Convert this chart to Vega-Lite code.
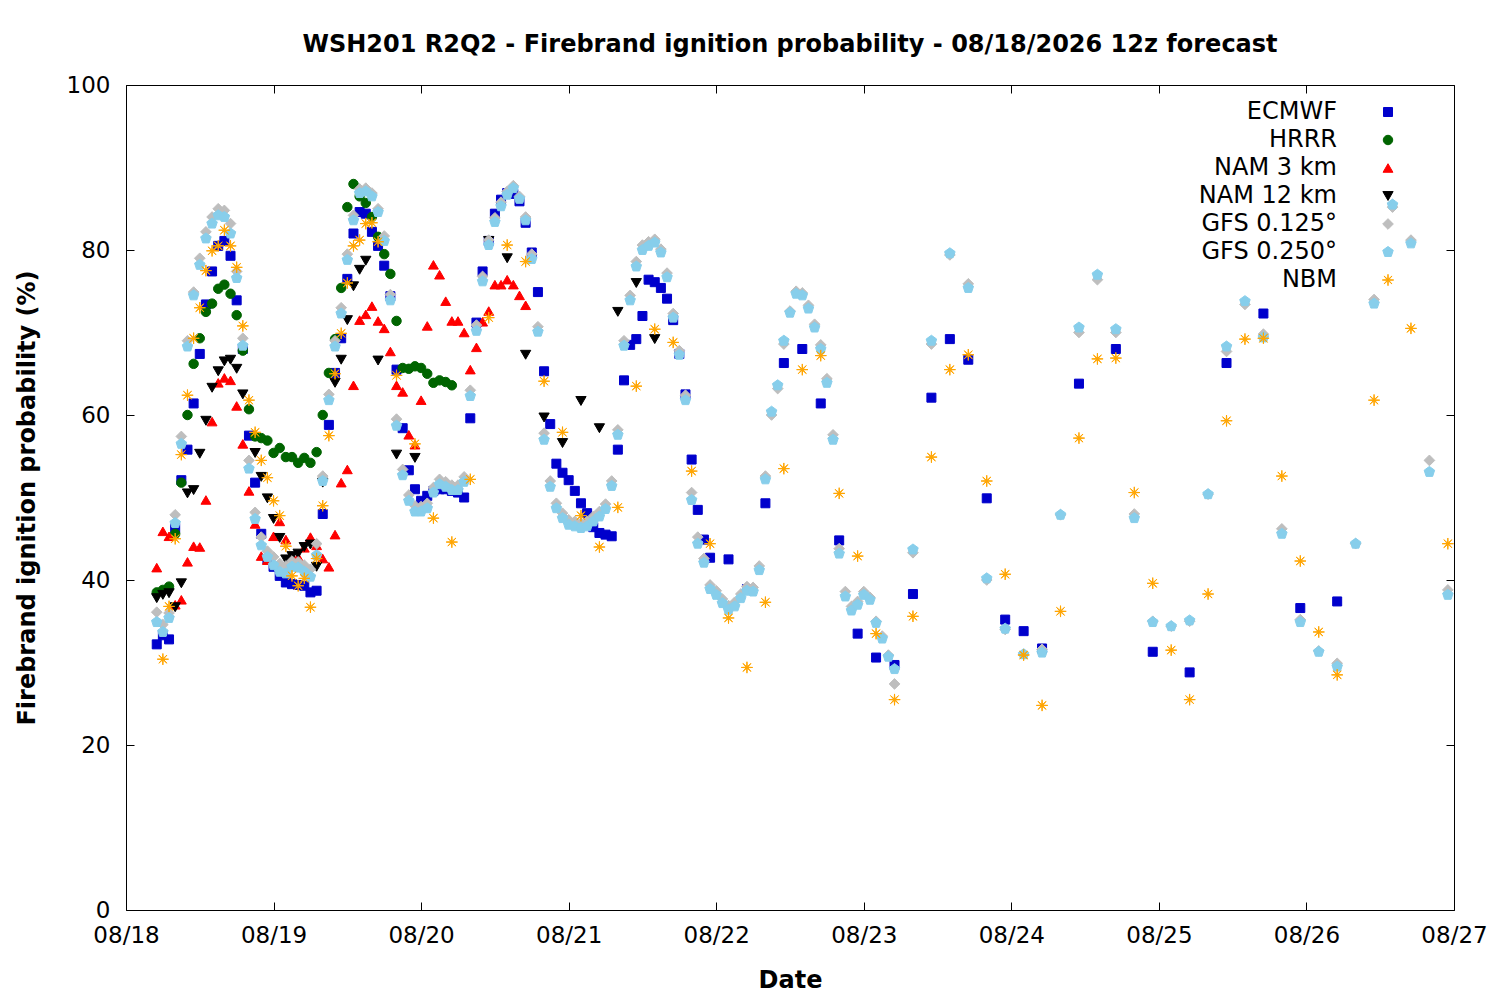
{
  "$schema": "https://vega.github.io/schema/vega-lite/v6.json",
  "width": 1328,
  "height": 825,
  "autosize": {"type": "none"},
  "padding": {"left": 126, "top": 85, "right": 46, "bottom": 90},
  "background": "white",
  "title": {"text": "WSH201 R2Q2 - Firebrand ignition probability - 08/18/2026 12z forecast", "font": "DejaVu Sans", "fontSize": 24, "fontWeight": "bold", "anchor": "middle", "offset": 17, "color": "black"},
  "config": {
    "view": {"stroke": "black", "strokeWidth": 1},
    "axis": {"labelFont": "DejaVu Sans", "titleFont": "DejaVu Sans", "labelColor": "black", "titleColor": "black", "tickColor": "black", "grid": false, "domain": false, "labelFontSize": 23, "titleFontSize": 24, "titleFontWeight": "bold", "tickSize": -8, "tickWidth": 1, "labelFlush": false, "labelOverlap": false},
    "legend": {"labelFont": "DejaVu Sans", "labelColor": "black"}
  },
  "data": {"values": [
{"m":"ECMWF","h":5,"v":32.2},{"m":"ECMWF","h":6,"v":33.3},{"m":"ECMWF","h":7,"v":32.8},{"m":"ECMWF","h":8,"v":46.3},{"m":"ECMWF","h":9,"v":52.1},{"m":"ECMWF","h":10,"v":55.8},{"m":"ECMWF","h":11,"v":61.4},{"m":"ECMWF","h":12,"v":67.4},{"m":"ECMWF","h":13,"v":73.4},{"m":"ECMWF","h":14,"v":77.4},{"m":"ECMWF","h":15,"v":80.5},{"m":"ECMWF","h":16,"v":81.1},{"m":"ECMWF","h":17,"v":79.3},{"m":"ECMWF","h":18,"v":73.9},{"m":"ECMWF","h":19,"v":68.0},{"m":"ECMWF","h":20,"v":57.5},{"m":"ECMWF","h":21,"v":51.8},{"m":"ECMWF","h":22,"v":45.6},{"m":"ECMWF","h":23,"v":42.5},{"m":"ECMWF","h":24,"v":41.6},{"m":"ECMWF","h":25,"v":40.5},{"m":"ECMWF","h":26,"v":39.7},{"m":"ECMWF","h":27,"v":39.5},{"m":"ECMWF","h":28,"v":39.4},{"m":"ECMWF","h":29,"v":39.3},{"m":"ECMWF","h":30,"v":38.5},{"m":"ECMWF","h":31,"v":38.7},{"m":"ECMWF","h":32,"v":48.0},{"m":"ECMWF","h":33,"v":58.8},{"m":"ECMWF","h":34,"v":65.1},{"m":"ECMWF","h":35,"v":69.3},{"m":"ECMWF","h":36,"v":76.5},{"m":"ECMWF","h":37,"v":82.0},{"m":"ECMWF","h":38,"v":84.6},{"m":"ECMWF","h":39,"v":84.4},{"m":"ECMWF","h":40,"v":82.2},{"m":"ECMWF","h":41,"v":80.5},{"m":"ECMWF","h":42,"v":78.1},{"m":"ECMWF","h":43,"v":74.4},{"m":"ECMWF","h":44,"v":65.5},{"m":"ECMWF","h":45,"v":58.4},{"m":"ECMWF","h":46,"v":53.3},{"m":"ECMWF","h":47,"v":51.0},{"m":"ECMWF","h":48,"v":49.6},{"m":"ECMWF","h":49,"v":50.2},{"m":"ECMWF","h":50,"v":50.8},{"m":"ECMWF","h":51,"v":51.0},{"m":"ECMWF","h":52,"v":51.0},{"m":"ECMWF","h":53,"v":50.8},{"m":"ECMWF","h":54,"v":50.6},{"m":"ECMWF","h":55,"v":50.0},{"m":"ECMWF","h":56,"v":59.6},{"m":"ECMWF","h":57,"v":71.2},{"m":"ECMWF","h":58,"v":77.4},{"m":"ECMWF","h":59,"v":81.1},{"m":"ECMWF","h":60,"v":84.4},{"m":"ECMWF","h":61,"v":86.1},{"m":"ECMWF","h":62,"v":86.9},{"m":"ECMWF","h":63,"v":86.8},{"m":"ECMWF","h":64,"v":85.9},{"m":"ECMWF","h":65,"v":83.3},{"m":"ECMWF","h":66,"v":79.7},{"m":"ECMWF","h":67,"v":74.9},{"m":"ECMWF","h":68,"v":65.3},{"m":"ECMWF","h":69,"v":58.9},{"m":"ECMWF","h":70,"v":54.1},{"m":"ECMWF","h":71,"v":53.0},{"m":"ECMWF","h":72,"v":52.1},{"m":"ECMWF","h":73,"v":50.8},{"m":"ECMWF","h":74,"v":49.3},{"m":"ECMWF","h":75,"v":48.1},{"m":"ECMWF","h":76,"v":46.4},{"m":"ECMWF","h":77,"v":45.7},{"m":"ECMWF","h":78,"v":45.5},{"m":"ECMWF","h":79,"v":45.3},{"m":"ECMWF","h":80,"v":55.8},{"m":"ECMWF","h":81,"v":64.2},{"m":"ECMWF","h":82,"v":68.5},{"m":"ECMWF","h":83,"v":69.2},{"m":"ECMWF","h":84,"v":72.0},{"m":"ECMWF","h":85,"v":76.4},{"m":"ECMWF","h":86,"v":76.1},{"m":"ECMWF","h":87,"v":75.4},{"m":"ECMWF","h":88,"v":74.1},{"m":"ECMWF","h":89,"v":71.5},{"m":"ECMWF","h":90,"v":67.4},{"m":"ECMWF","h":91,"v":62.5},{"m":"ECMWF","h":92,"v":54.6},{"m":"ECMWF","h":93,"v":48.5},{"m":"ECMWF","h":94,"v":44.9},{"m":"ECMWF","h":95,"v":42.7},{"m":"ECMWF","h":98,"v":42.5},{"m":"ECMWF","h":101,"v":38.9},{"m":"ECMWF","h":104,"v":49.3},{"m":"ECMWF","h":107,"v":66.3},{"m":"ECMWF","h":110,"v":68.0},{"m":"ECMWF","h":113,"v":61.4},{"m":"ECMWF","h":116,"v":44.8},{"m":"ECMWF","h":119,"v":33.5},{"m":"ECMWF","h":122,"v":30.6},{"m":"ECMWF","h":125,"v":29.7},{"m":"ECMWF","h":128,"v":38.3},{"m":"ECMWF","h":131,"v":62.1},{"m":"ECMWF","h":134,"v":69.2},{"m":"ECMWF","h":137,"v":66.7},{"m":"ECMWF","h":140,"v":49.9},{"m":"ECMWF","h":143,"v":35.2},{"m":"ECMWF","h":146,"v":33.8},{"m":"ECMWF","h":149,"v":31.7},{"m":"ECMWF","h":155,"v":63.8},{"m":"ECMWF","h":161,"v":68.0},{"m":"ECMWF","h":167,"v":31.3},{"m":"ECMWF","h":173,"v":28.8},{"m":"ECMWF","h":179,"v":66.3},{"m":"ECMWF","h":185,"v":72.3},{"m":"ECMWF","h":191,"v":36.6},{"m":"ECMWF","h":197,"v":37.4},
{"m":"HRRR","h":5,"v":38.5},{"m":"HRRR","h":6,"v":38.8},{"m":"HRRR","h":7,"v":39.2},{"m":"HRRR","h":8,"v":45.6},{"m":"HRRR","h":9,"v":51.8},{"m":"HRRR","h":10,"v":60.0},{"m":"HRRR","h":11,"v":66.2},{"m":"HRRR","h":12,"v":69.3},{"m":"HRRR","h":13,"v":72.5},{"m":"HRRR","h":14,"v":73.5},{"m":"HRRR","h":15,"v":75.3},{"m":"HRRR","h":16,"v":75.8},{"m":"HRRR","h":17,"v":74.7},{"m":"HRRR","h":18,"v":72.1},{"m":"HRRR","h":19,"v":67.8},{"m":"HRRR","h":20,"v":60.7},{"m":"HRRR","h":21,"v":57.4},{"m":"HRRR","h":22,"v":57.2},{"m":"HRRR","h":23,"v":56.9},{"m":"HRRR","h":24,"v":55.4},{"m":"HRRR","h":25,"v":56.0},{"m":"HRRR","h":26,"v":54.9},{"m":"HRRR","h":27,"v":54.9},{"m":"HRRR","h":28,"v":54.2},{"m":"HRRR","h":29,"v":54.8},{"m":"HRRR","h":30,"v":54.2},{"m":"HRRR","h":31,"v":55.5},{"m":"HRRR","h":32,"v":60.0},{"m":"HRRR","h":33,"v":65.1},{"m":"HRRR","h":34,"v":69.2},{"m":"HRRR","h":35,"v":75.4},{"m":"HRRR","h":36,"v":85.2},{"m":"HRRR","h":37,"v":88.0},{"m":"HRRR","h":38,"v":86.5},{"m":"HRRR","h":39,"v":85.7},{"m":"HRRR","h":40,"v":84.0},{"m":"HRRR","h":41,"v":81.6},{"m":"HRRR","h":42,"v":79.5},{"m":"HRRR","h":43,"v":77.1},{"m":"HRRR","h":44,"v":71.4},{"m":"HRRR","h":45,"v":65.7},{"m":"HRRR","h":46,"v":65.6},{"m":"HRRR","h":47,"v":65.9},{"m":"HRRR","h":48,"v":65.7},{"m":"HRRR","h":49,"v":65.0},{"m":"HRRR","h":50,"v":63.9},{"m":"HRRR","h":51,"v":64.2},{"m":"HRRR","h":52,"v":64.0},{"m":"HRRR","h":53,"v":63.6},
{"m":"NAM 3 km","h":5,"v":41.5},{"m":"NAM 3 km","h":6,"v":45.9},{"m":"NAM 3 km","h":7,"v":45.3},{"m":"NAM 3 km","h":8,"v":37.0},{"m":"NAM 3 km","h":9,"v":37.6},{"m":"NAM 3 km","h":10,"v":42.2},{"m":"NAM 3 km","h":11,"v":44.1},{"m":"NAM 3 km","h":12,"v":44.0},{"m":"NAM 3 km","h":13,"v":49.7},{"m":"NAM 3 km","h":14,"v":59.2},{"m":"NAM 3 km","h":15,"v":63.9},{"m":"NAM 3 km","h":16,"v":64.5},{"m":"NAM 3 km","h":17,"v":64.2},{"m":"NAM 3 km","h":18,"v":61.1},{"m":"NAM 3 km","h":19,"v":56.5},{"m":"NAM 3 km","h":20,"v":50.8},{"m":"NAM 3 km","h":21,"v":46.8},{"m":"NAM 3 km","h":22,"v":42.9},{"m":"NAM 3 km","h":23,"v":42.4},{"m":"NAM 3 km","h":24,"v":45.3},{"m":"NAM 3 km","h":25,"v":47.1},{"m":"NAM 3 km","h":26,"v":44.9},{"m":"NAM 3 km","h":27,"v":42.8},{"m":"NAM 3 km","h":28,"v":42.8},{"m":"NAM 3 km","h":29,"v":43.9},{"m":"NAM 3 km","h":30,"v":45.2},{"m":"NAM 3 km","h":31,"v":44.2},{"m":"NAM 3 km","h":32,"v":42.6},{"m":"NAM 3 km","h":33,"v":41.6},{"m":"NAM 3 km","h":34,"v":45.5},{"m":"NAM 3 km","h":35,"v":51.8},{"m":"NAM 3 km","h":36,"v":53.4},{"m":"NAM 3 km","h":37,"v":63.6},{"m":"NAM 3 km","h":38,"v":71.5},{"m":"NAM 3 km","h":39,"v":72.2},{"m":"NAM 3 km","h":40,"v":73.2},{"m":"NAM 3 km","h":41,"v":71.4},{"m":"NAM 3 km","h":42,"v":70.5},{"m":"NAM 3 km","h":43,"v":67.7},{"m":"NAM 3 km","h":44,"v":63.6},{"m":"NAM 3 km","h":45,"v":62.8},{"m":"NAM 3 km","h":46,"v":57.6},{"m":"NAM 3 km","h":47,"v":56.4},{"m":"NAM 3 km","h":48,"v":61.8},{"m":"NAM 3 km","h":49,"v":70.8},{"m":"NAM 3 km","h":50,"v":78.2},{"m":"NAM 3 km","h":51,"v":77.0},{"m":"NAM 3 km","h":52,"v":73.8},{"m":"NAM 3 km","h":53,"v":71.4},{"m":"NAM 3 km","h":54,"v":71.4},{"m":"NAM 3 km","h":55,"v":70.0},{"m":"NAM 3 km","h":56,"v":65.5},{"m":"NAM 3 km","h":57,"v":68.2},{"m":"NAM 3 km","h":58,"v":71.3},{"m":"NAM 3 km","h":59,"v":72.6},{"m":"NAM 3 km","h":60,"v":75.8},{"m":"NAM 3 km","h":61,"v":75.8},{"m":"NAM 3 km","h":62,"v":76.4},{"m":"NAM 3 km","h":63,"v":75.8},{"m":"NAM 3 km","h":64,"v":74.5},{"m":"NAM 3 km","h":65,"v":73.3},
{"m":"NAM 12 km","h":5,"v":37.8},{"m":"NAM 12 km","h":6,"v":38.2},{"m":"NAM 12 km","h":7,"v":38.4},{"m":"NAM 12 km","h":8,"v":36.7},{"m":"NAM 12 km","h":9,"v":39.6},{"m":"NAM 12 km","h":10,"v":50.5},{"m":"NAM 12 km","h":11,"v":50.9},{"m":"NAM 12 km","h":12,"v":55.3},{"m":"NAM 12 km","h":13,"v":59.3},{"m":"NAM 12 km","h":14,"v":63.3},{"m":"NAM 12 km","h":15,"v":65.3},{"m":"NAM 12 km","h":16,"v":66.5},{"m":"NAM 12 km","h":17,"v":66.7},{"m":"NAM 12 km","h":18,"v":65.6},{"m":"NAM 12 km","h":19,"v":62.5},{"m":"NAM 12 km","h":21,"v":55.4},{"m":"NAM 12 km","h":22,"v":52.5},{"m":"NAM 12 km","h":23,"v":49.9},{"m":"NAM 12 km","h":24,"v":47.4},{"m":"NAM 12 km","h":25,"v":45.1},{"m":"NAM 12 km","h":26,"v":42.5},{"m":"NAM 12 km","h":27,"v":42.9},{"m":"NAM 12 km","h":28,"v":43.2},{"m":"NAM 12 km","h":29,"v":44.0},{"m":"NAM 12 km","h":30,"v":44.3},{"m":"NAM 12 km","h":31,"v":41.6},{"m":"NAM 12 km","h":32,"v":51.8},{"m":"NAM 12 km","h":34,"v":63.9},{"m":"NAM 12 km","h":35,"v":66.7},{"m":"NAM 12 km","h":36,"v":71.5},{"m":"NAM 12 km","h":37,"v":75.6},{"m":"NAM 12 km","h":38,"v":77.6},{"m":"NAM 12 km","h":39,"v":78.7},{"m":"NAM 12 km","h":41,"v":66.6},{"m":"NAM 12 km","h":44,"v":55.2},{"m":"NAM 12 km","h":47,"v":54.8},{"m":"NAM 12 km","h":59,"v":81.1},{"m":"NAM 12 km","h":62,"v":79.0},{"m":"NAM 12 km","h":65,"v":67.3},{"m":"NAM 12 km","h":68,"v":59.7},{"m":"NAM 12 km","h":71,"v":56.6},{"m":"NAM 12 km","h":74,"v":61.7},{"m":"NAM 12 km","h":77,"v":58.4},{"m":"NAM 12 km","h":80,"v":72.5},{"m":"NAM 12 km","h":83,"v":76.0},{"m":"NAM 12 km","h":86,"v":69.2},
{"m":"GFS 0.125°","h":5,"v":36.1},{"m":"GFS 0.125°","h":6,"v":34.6},{"m":"GFS 0.125°","h":7,"v":36.0},{"m":"GFS 0.125°","h":8,"v":47.9},{"m":"GFS 0.125°","h":9,"v":57.4},{"m":"GFS 0.125°","h":10,"v":69.0},{"m":"GFS 0.125°","h":11,"v":74.9},{"m":"GFS 0.125°","h":12,"v":79.0},{"m":"GFS 0.125°","h":13,"v":82.2},{"m":"GFS 0.125°","h":14,"v":84.0},{"m":"GFS 0.125°","h":15,"v":85.0},{"m":"GFS 0.125°","h":16,"v":84.8},{"m":"GFS 0.125°","h":17,"v":83.2},{"m":"GFS 0.125°","h":18,"v":77.4},{"m":"GFS 0.125°","h":19,"v":69.3},{"m":"GFS 0.125°","h":20,"v":54.5},{"m":"GFS 0.125°","h":21,"v":48.2},{"m":"GFS 0.125°","h":22,"v":45.2},{"m":"GFS 0.125°","h":23,"v":43.5},{"m":"GFS 0.125°","h":24,"v":42.8},{"m":"GFS 0.125°","h":25,"v":42.0},{"m":"GFS 0.125°","h":26,"v":41.7},{"m":"GFS 0.125°","h":27,"v":42.3},{"m":"GFS 0.125°","h":28,"v":42.2},{"m":"GFS 0.125°","h":29,"v":41.8},{"m":"GFS 0.125°","h":30,"v":41.3},{"m":"GFS 0.125°","h":31,"v":44.4},{"m":"GFS 0.125°","h":32,"v":52.6},{"m":"GFS 0.125°","h":33,"v":62.5},{"m":"GFS 0.125°","h":34,"v":69.0},{"m":"GFS 0.125°","h":35,"v":73.0},{"m":"GFS 0.125°","h":36,"v":79.5},{"m":"GFS 0.125°","h":37,"v":84.2},{"m":"GFS 0.125°","h":38,"v":87.4},{"m":"GFS 0.125°","h":39,"v":87.5},{"m":"GFS 0.125°","h":40,"v":86.9},{"m":"GFS 0.125°","h":41,"v":85.0},{"m":"GFS 0.125°","h":42,"v":81.7},{"m":"GFS 0.125°","h":43,"v":74.6},{"m":"GFS 0.125°","h":44,"v":59.5},{"m":"GFS 0.125°","h":45,"v":53.4},{"m":"GFS 0.125°","h":46,"v":50.3},{"m":"GFS 0.125°","h":47,"v":49.0},{"m":"GFS 0.125°","h":48,"v":48.9},{"m":"GFS 0.125°","h":49,"v":49.3},{"m":"GFS 0.125°","h":50,"v":51.2},{"m":"GFS 0.125°","h":51,"v":52.2},{"m":"GFS 0.125°","h":52,"v":51.9},{"m":"GFS 0.125°","h":53,"v":51.5},{"m":"GFS 0.125°","h":54,"v":51.5},{"m":"GFS 0.125°","h":55,"v":52.5},{"m":"GFS 0.125°","h":56,"v":63.0},{"m":"GFS 0.125°","h":57,"v":70.9},{"m":"GFS 0.125°","h":58,"v":76.8},{"m":"GFS 0.125°","h":59,"v":81.2},{"m":"GFS 0.125°","h":60,"v":83.9},{"m":"GFS 0.125°","h":61,"v":85.8},{"m":"GFS 0.125°","h":62,"v":87.1},{"m":"GFS 0.125°","h":63,"v":87.8},{"m":"GFS 0.125°","h":64,"v":86.5},{"m":"GFS 0.125°","h":65,"v":84.0},{"m":"GFS 0.125°","h":66,"v":79.5},{"m":"GFS 0.125°","h":67,"v":70.7},{"m":"GFS 0.125°","h":68,"v":57.8},{"m":"GFS 0.125°","h":69,"v":52.0},{"m":"GFS 0.125°","h":70,"v":49.3},{"m":"GFS 0.125°","h":71,"v":48.1},{"m":"GFS 0.125°","h":72,"v":47.3},{"m":"GFS 0.125°","h":73,"v":47.1},{"m":"GFS 0.125°","h":74,"v":46.9},{"m":"GFS 0.125°","h":75,"v":47.1},{"m":"GFS 0.125°","h":76,"v":47.7},{"m":"GFS 0.125°","h":77,"v":48.3},{"m":"GFS 0.125°","h":78,"v":49.2},{"m":"GFS 0.125°","h":79,"v":52.0},{"m":"GFS 0.125°","h":80,"v":58.2},{"m":"GFS 0.125°","h":81,"v":69.0},{"m":"GFS 0.125°","h":82,"v":74.5},{"m":"GFS 0.125°","h":83,"v":78.6},{"m":"GFS 0.125°","h":84,"v":80.6},{"m":"GFS 0.125°","h":85,"v":81.0},{"m":"GFS 0.125°","h":86,"v":81.3},{"m":"GFS 0.125°","h":87,"v":80.1},{"m":"GFS 0.125°","h":88,"v":77.2},{"m":"GFS 0.125°","h":89,"v":72.3},{"m":"GFS 0.125°","h":90,"v":67.8},{"m":"GFS 0.125°","h":91,"v":62.4},{"m":"GFS 0.125°","h":92,"v":50.6},{"m":"GFS 0.125°","h":93,"v":45.2},{"m":"GFS 0.125°","h":94,"v":42.6},{"m":"GFS 0.125°","h":95,"v":39.4},{"m":"GFS 0.125°","h":96,"v":38.7},{"m":"GFS 0.125°","h":97,"v":37.7},{"m":"GFS 0.125°","h":98,"v":36.9},{"m":"GFS 0.125°","h":99,"v":37.3},{"m":"GFS 0.125°","h":100,"v":38.3},{"m":"GFS 0.125°","h":101,"v":39.2},{"m":"GFS 0.125°","h":102,"v":39.1},{"m":"GFS 0.125°","h":103,"v":41.7},{"m":"GFS 0.125°","h":104,"v":52.6},{"m":"GFS 0.125°","h":105,"v":60.0},{"m":"GFS 0.125°","h":106,"v":63.2},{"m":"GFS 0.125°","h":107,"v":68.6},{"m":"GFS 0.125°","h":108,"v":72.6},{"m":"GFS 0.125°","h":109,"v":75.0},{"m":"GFS 0.125°","h":110,"v":74.8},{"m":"GFS 0.125°","h":111,"v":73.3},{"m":"GFS 0.125°","h":112,"v":71.0},{"m":"GFS 0.125°","h":113,"v":68.5},{"m":"GFS 0.125°","h":114,"v":64.4},{"m":"GFS 0.125°","h":115,"v":57.6},{"m":"GFS 0.125°","h":116,"v":43.8},{"m":"GFS 0.125°","h":117,"v":38.6},{"m":"GFS 0.125°","h":118,"v":36.8},{"m":"GFS 0.125°","h":119,"v":37.4},{"m":"GFS 0.125°","h":120,"v":38.6},{"m":"GFS 0.125°","h":121,"v":37.9},{"m":"GFS 0.125°","h":122,"v":35.0},{"m":"GFS 0.125°","h":123,"v":33.2},{"m":"GFS 0.125°","h":124,"v":30.9},{"m":"GFS 0.125°","h":125,"v":27.4},{"m":"GFS 0.125°","h":128,"v":43.3},{"m":"GFS 0.125°","h":131,"v":68.6},{"m":"GFS 0.125°","h":134,"v":79.4},{"m":"GFS 0.125°","h":137,"v":75.9},{"m":"GFS 0.125°","h":140,"v":40.0},{"m":"GFS 0.125°","h":143,"v":34.0},{"m":"GFS 0.125°","h":146,"v":31.0},{"m":"GFS 0.125°","h":149,"v":31.6},{"m":"GFS 0.125°","h":152,"v":47.9},{"m":"GFS 0.125°","h":155,"v":70.0},{"m":"GFS 0.125°","h":158,"v":76.4},{"m":"GFS 0.125°","h":161,"v":70.0},{"m":"GFS 0.125°","h":164,"v":48.0},{"m":"GFS 0.125°","h":167,"v":35.0},{"m":"GFS 0.125°","h":170,"v":34.4},{"m":"GFS 0.125°","h":173,"v":35.0},{"m":"GFS 0.125°","h":176,"v":50.4},{"m":"GFS 0.125°","h":179,"v":67.7},{"m":"GFS 0.125°","h":182,"v":73.4},{"m":"GFS 0.125°","h":185,"v":69.8},{"m":"GFS 0.125°","h":188,"v":46.2},{"m":"GFS 0.125°","h":191,"v":35.2},{"m":"GFS 0.125°","h":194,"v":31.4},{"m":"GFS 0.125°","h":197,"v":29.9},{"m":"GFS 0.125°","h":200,"v":44.4},{"m":"GFS 0.125°","h":203,"v":74.0},{"m":"GFS 0.125°","h":206,"v":85.2},{"m":"GFS 0.125°","h":209,"v":81.2},{"m":"GFS 0.125°","h":212,"v":54.5},{"m":"GFS 0.125°","h":215,"v":38.8},
{"m":"GFS 0.250°","h":5,"v":34.9},{"m":"GFS 0.250°","h":6,"v":33.7},{"m":"GFS 0.250°","h":7,"v":35.4},{"m":"GFS 0.250°","h":8,"v":46.9},{"m":"GFS 0.250°","h":9,"v":56.5},{"m":"GFS 0.250°","h":10,"v":68.3},{"m":"GFS 0.250°","h":11,"v":74.5},{"m":"GFS 0.250°","h":12,"v":78.2},{"m":"GFS 0.250°","h":13,"v":81.4},{"m":"GFS 0.250°","h":14,"v":83.2},{"m":"GFS 0.250°","h":15,"v":84.2},{"m":"GFS 0.250°","h":16,"v":84.0},{"m":"GFS 0.250°","h":17,"v":82.0},{"m":"GFS 0.250°","h":18,"v":76.6},{"m":"GFS 0.250°","h":19,"v":68.4},{"m":"GFS 0.250°","h":20,"v":53.5},{"m":"GFS 0.250°","h":21,"v":47.4},{"m":"GFS 0.250°","h":22,"v":44.2},{"m":"GFS 0.250°","h":23,"v":42.8},{"m":"GFS 0.250°","h":24,"v":41.8},{"m":"GFS 0.250°","h":25,"v":41.0},{"m":"GFS 0.250°","h":26,"v":40.8},{"m":"GFS 0.250°","h":27,"v":41.6},{"m":"GFS 0.250°","h":28,"v":41.5},{"m":"GFS 0.250°","h":29,"v":41.0},{"m":"GFS 0.250°","h":30,"v":40.4},{"m":"GFS 0.250°","h":31,"v":43.0},{"m":"GFS 0.250°","h":32,"v":52.0},{"m":"GFS 0.250°","h":33,"v":61.8},{"m":"GFS 0.250°","h":34,"v":68.3},{"m":"GFS 0.250°","h":35,"v":72.3},{"m":"GFS 0.250°","h":36,"v":78.8},{"m":"GFS 0.250°","h":37,"v":83.6},{"m":"GFS 0.250°","h":38,"v":86.9},{"m":"GFS 0.250°","h":39,"v":87.1},{"m":"GFS 0.250°","h":40,"v":86.5},{"m":"GFS 0.250°","h":41,"v":84.6},{"m":"GFS 0.250°","h":42,"v":81.1},{"m":"GFS 0.250°","h":43,"v":73.9},{"m":"GFS 0.250°","h":44,"v":58.7},{"m":"GFS 0.250°","h":45,"v":52.7},{"m":"GFS 0.250°","h":46,"v":49.6},{"m":"GFS 0.250°","h":47,"v":48.3},{"m":"GFS 0.250°","h":48,"v":48.3},{"m":"GFS 0.250°","h":49,"v":48.7},{"m":"GFS 0.250°","h":50,"v":50.6},{"m":"GFS 0.250°","h":51,"v":51.6},{"m":"GFS 0.250°","h":52,"v":51.3},{"m":"GFS 0.250°","h":53,"v":50.9},{"m":"GFS 0.250°","h":54,"v":50.9},{"m":"GFS 0.250°","h":55,"v":51.9},{"m":"GFS 0.250°","h":56,"v":62.3},{"m":"GFS 0.250°","h":57,"v":70.2},{"m":"GFS 0.250°","h":58,"v":76.2},{"m":"GFS 0.250°","h":59,"v":80.6},{"m":"GFS 0.250°","h":60,"v":83.4},{"m":"GFS 0.250°","h":61,"v":85.3},{"m":"GFS 0.250°","h":62,"v":86.7},{"m":"GFS 0.250°","h":63,"v":87.5},{"m":"GFS 0.250°","h":64,"v":86.2},{"m":"GFS 0.250°","h":65,"v":83.6},{"m":"GFS 0.250°","h":66,"v":78.9},{"m":"GFS 0.250°","h":67,"v":70.1},{"m":"GFS 0.250°","h":68,"v":57.0},{"m":"GFS 0.250°","h":69,"v":51.3},{"m":"GFS 0.250°","h":70,"v":48.7},{"m":"GFS 0.250°","h":71,"v":47.5},{"m":"GFS 0.250°","h":72,"v":46.7},{"m":"GFS 0.250°","h":73,"v":46.5},{"m":"GFS 0.250°","h":74,"v":46.3},{"m":"GFS 0.250°","h":75,"v":46.5},{"m":"GFS 0.250°","h":76,"v":47.1},{"m":"GFS 0.250°","h":77,"v":47.7},{"m":"GFS 0.250°","h":78,"v":48.6},{"m":"GFS 0.250°","h":79,"v":51.4},{"m":"GFS 0.250°","h":80,"v":57.6},{"m":"GFS 0.250°","h":81,"v":68.4},{"m":"GFS 0.250°","h":82,"v":73.9},{"m":"GFS 0.250°","h":83,"v":78.0},{"m":"GFS 0.250°","h":84,"v":80.0},{"m":"GFS 0.250°","h":85,"v":80.5},{"m":"GFS 0.250°","h":86,"v":80.9},{"m":"GFS 0.250°","h":87,"v":79.7},{"m":"GFS 0.250°","h":88,"v":76.7},{"m":"GFS 0.250°","h":89,"v":71.8},{"m":"GFS 0.250°","h":90,"v":67.3},{"m":"GFS 0.250°","h":91,"v":61.8},{"m":"GFS 0.250°","h":92,"v":49.7},{"m":"GFS 0.250°","h":93,"v":44.4},{"m":"GFS 0.250°","h":94,"v":42.1},{"m":"GFS 0.250°","h":95,"v":38.9},{"m":"GFS 0.250°","h":96,"v":38.2},{"m":"GFS 0.250°","h":97,"v":37.2},{"m":"GFS 0.250°","h":98,"v":36.4},{"m":"GFS 0.250°","h":99,"v":36.8},{"m":"GFS 0.250°","h":100,"v":37.8},{"m":"GFS 0.250°","h":101,"v":38.7},{"m":"GFS 0.250°","h":102,"v":38.6},{"m":"GFS 0.250°","h":103,"v":41.2},{"m":"GFS 0.250°","h":104,"v":52.2},{"m":"GFS 0.250°","h":105,"v":60.4},{"m":"GFS 0.250°","h":106,"v":63.6},{"m":"GFS 0.250°","h":107,"v":69.0},{"m":"GFS 0.250°","h":108,"v":72.4},{"m":"GFS 0.250°","h":109,"v":74.7},{"m":"GFS 0.250°","h":110,"v":74.5},{"m":"GFS 0.250°","h":111,"v":72.9},{"m":"GFS 0.250°","h":112,"v":70.6},{"m":"GFS 0.250°","h":113,"v":68.0},{"m":"GFS 0.250°","h":114,"v":63.9},{"m":"GFS 0.250°","h":115,"v":57.0},{"m":"GFS 0.250°","h":116,"v":43.2},{"m":"GFS 0.250°","h":117,"v":38.0},{"m":"GFS 0.250°","h":118,"v":36.3},{"m":"GFS 0.250°","h":119,"v":37.0},{"m":"GFS 0.250°","h":120,"v":38.2},{"m":"GFS 0.250°","h":121,"v":37.6},{"m":"GFS 0.250°","h":122,"v":34.8},{"m":"GFS 0.250°","h":123,"v":32.9},{"m":"GFS 0.250°","h":124,"v":30.7},{"m":"GFS 0.250°","h":125,"v":29.2},{"m":"GFS 0.250°","h":128,"v":43.7},{"m":"GFS 0.250°","h":131,"v":69.0},{"m":"GFS 0.250°","h":134,"v":79.6},{"m":"GFS 0.250°","h":137,"v":75.4},{"m":"GFS 0.250°","h":140,"v":40.2},{"m":"GFS 0.250°","h":143,"v":34.1},{"m":"GFS 0.250°","h":146,"v":31.0},{"m":"GFS 0.250°","h":149,"v":31.2},{"m":"GFS 0.250°","h":152,"v":47.9},{"m":"GFS 0.250°","h":155,"v":70.6},{"m":"GFS 0.250°","h":158,"v":77.0},{"m":"GFS 0.250°","h":161,"v":70.4},{"m":"GFS 0.250°","h":164,"v":47.5},{"m":"GFS 0.250°","h":167,"v":34.9},{"m":"GFS 0.250°","h":170,"v":34.4},{"m":"GFS 0.250°","h":173,"v":35.1},{"m":"GFS 0.250°","h":176,"v":50.4},{"m":"GFS 0.250°","h":179,"v":68.3},{"m":"GFS 0.250°","h":182,"v":73.8},{"m":"GFS 0.250°","h":185,"v":69.4},{"m":"GFS 0.250°","h":188,"v":45.6},{"m":"GFS 0.250°","h":191,"v":34.9},{"m":"GFS 0.250°","h":194,"v":31.3},{"m":"GFS 0.250°","h":197,"v":29.5},{"m":"GFS 0.250°","h":200,"v":44.4},{"m":"GFS 0.250°","h":203,"v":73.5},{"m":"GFS 0.250°","h":206,"v":85.5},{"m":"GFS 0.250°","h":209,"v":80.8},{"m":"GFS 0.250°","h":212,"v":53.1},{"m":"GFS 0.250°","h":215,"v":38.2},
{"m":"NBM","h":6,"v":30.4},{"m":"NBM","h":7,"v":36.8},{"m":"NBM","h":8,"v":45.0},{"m":"NBM","h":9,"v":55.2},{"m":"NBM","h":10,"v":62.4},{"m":"NBM","h":11,"v":69.3},{"m":"NBM","h":12,"v":73.0},{"m":"NBM","h":13,"v":77.5},{"m":"NBM","h":14,"v":79.9},{"m":"NBM","h":15,"v":80.5},{"m":"NBM","h":16,"v":82.4},{"m":"NBM","h":17,"v":80.5},{"m":"NBM","h":18,"v":77.9},{"m":"NBM","h":19,"v":70.8},{"m":"NBM","h":20,"v":61.8},{"m":"NBM","h":21,"v":57.9},{"m":"NBM","h":22,"v":54.5},{"m":"NBM","h":23,"v":52.4},{"m":"NBM","h":24,"v":49.6},{"m":"NBM","h":25,"v":47.8},{"m":"NBM","h":26,"v":44.1},{"m":"NBM","h":27,"v":40.5},{"m":"NBM","h":28,"v":39.3},{"m":"NBM","h":29,"v":40.2},{"m":"NBM","h":30,"v":36.7},{"m":"NBM","h":31,"v":42.6},{"m":"NBM","h":32,"v":49.0},{"m":"NBM","h":33,"v":57.5},{"m":"NBM","h":34,"v":65.0},{"m":"NBM","h":35,"v":69.9},{"m":"NBM","h":36,"v":76.0},{"m":"NBM","h":37,"v":80.5},{"m":"NBM","h":38,"v":81.2},{"m":"NBM","h":39,"v":83.2},{"m":"NBM","h":40,"v":83.3},{"m":"NBM","h":41,"v":81.0},{"m":"NBM","h":44,"v":64.8},{"m":"NBM","h":47,"v":56.5},{"m":"NBM","h":50,"v":47.5},{"m":"NBM","h":53,"v":44.6},{"m":"NBM","h":56,"v":52.2},{"m":"NBM","h":59,"v":71.8},{"m":"NBM","h":62,"v":80.6},{"m":"NBM","h":65,"v":78.6},{"m":"NBM","h":68,"v":64.1},{"m":"NBM","h":71,"v":57.9},{"m":"NBM","h":74,"v":47.8},{"m":"NBM","h":77,"v":44.0},{"m":"NBM","h":80,"v":48.8},{"m":"NBM","h":83,"v":63.5},{"m":"NBM","h":86,"v":70.4},{"m":"NBM","h":89,"v":68.8},{"m":"NBM","h":92,"v":53.2},{"m":"NBM","h":95,"v":44.4},{"m":"NBM","h":98,"v":35.4},{"m":"NBM","h":101,"v":29.4},{"m":"NBM","h":104,"v":37.3},{"m":"NBM","h":107,"v":53.5},{"m":"NBM","h":110,"v":65.5},{"m":"NBM","h":113,"v":67.2},{"m":"NBM","h":116,"v":50.5},{"m":"NBM","h":119,"v":42.9},{"m":"NBM","h":122,"v":33.5},{"m":"NBM","h":125,"v":25.5},{"m":"NBM","h":128,"v":35.6},{"m":"NBM","h":131,"v":54.9},{"m":"NBM","h":134,"v":65.5},{"m":"NBM","h":137,"v":67.3},{"m":"NBM","h":140,"v":52.0},{"m":"NBM","h":143,"v":40.7},{"m":"NBM","h":146,"v":30.9},{"m":"NBM","h":149,"v":24.8},{"m":"NBM","h":152,"v":36.2},{"m":"NBM","h":155,"v":57.2},{"m":"NBM","h":158,"v":66.8},{"m":"NBM","h":161,"v":66.9},{"m":"NBM","h":164,"v":50.6},{"m":"NBM","h":167,"v":39.6},{"m":"NBM","h":170,"v":31.5},{"m":"NBM","h":173,"v":25.5},{"m":"NBM","h":176,"v":38.3},{"m":"NBM","h":179,"v":59.3},{"m":"NBM","h":182,"v":69.2},{"m":"NBM","h":185,"v":69.3},{"m":"NBM","h":188,"v":52.6},{"m":"NBM","h":191,"v":42.3},{"m":"NBM","h":194,"v":33.7},{"m":"NBM","h":197,"v":28.5},{"m":"NBM","h":203,"v":61.8},{"m":"NBM","h":209,"v":70.5},{"m":"NBM","h":215,"v":44.4}
  ]},
  "resolve": {"axis": {"x": "independent", "y": "independent"}},
  "layer": [
    {
      "mark": {"type": "point", "filled": true, "strokeWidth": 1, "opacity": 1},
      "encoding": {
        "x": {"field": "h", "type": "quantitative", "scale": {"domain": [0, 216], "nice": false, "zero": false}, "axis": {"orient": "bottom", "values": [0, 24, 48, 72, 96, 120, 144, 168, 192, 216], "labelExpr": "'08/' + (18 + datum.value / 24)", "labelPadding": 22, "title": "Date", "titlePadding": 21}},
        "y": {"field": "v", "type": "quantitative", "scale": {"domain": [0, 100], "nice": false}, "axis": {"orient": "left", "values": [0, 20, 40, 60, 80, 100], "labelPadding": 24, "title": "Firebrand ignition probability (%)", "titlePadding": 27}},
        "fill": {"field": "m", "type": "nominal", "sort": null, "scale": {"domain": ["ECMWF", "HRRR", "NAM 3 km", "NAM 12 km", "GFS 0.125°", "GFS 0.250°", "NBM"], "range": ["#0000cc", "#006400", "#ff0000", "#000000", "#bebebe", "#87ceeb", "#ffa500"]}, "legend": {"title": null, "orient": "none", "legendX": 1193, "legendY": 15, "labelFontSize": 24, "labelAlign": "right", "labelOffset": -63, "symbolOffset": 57, "rowPadding": 4, "padding": 0, "labelLimit": 400, "symbolStrokeWidth": 1}},
        "stroke": {"field": "m", "type": "nominal", "sort": null, "scale": {"domain": ["ECMWF", "HRRR", "NAM 3 km", "NAM 12 km", "GFS 0.125°", "GFS 0.250°", "NBM"], "range": ["#0000cc", "#006400", "#ff0000", "#000000", "#bebebe", "#87ceeb", "#ffa500"]}, "legend": {"title": null, "orient": "none", "legendX": 1193, "legendY": 15, "labelFontSize": 24, "labelAlign": "right", "labelOffset": -63, "symbolOffset": 57, "rowPadding": 4, "padding": 0, "labelLimit": 400, "symbolStrokeWidth": 1}},
        "shape": {"field": "m", "type": "nominal", "sort": null, "scale": {"domain": ["ECMWF", "HRRR", "NAM 3 km", "NAM 12 km", "GFS 0.125°", "GFS 0.250°", "NBM"], "range": ["square", "circle", "triangle-up", "triangle-down", "diamond", "M0,-1L0.951,-0.309L0.588,0.809L-0.588,0.809L-0.951,-0.309Z", "M1,0L0.139,0.057L0.707,0.707L0.057,0.139L0,1L-0.057,0.139L-0.707,0.707L-0.139,0.057L-1,0L-0.139,-0.057L-0.707,-0.707L-0.057,-0.139L0,-1L0.057,-0.139L0.707,-0.707L0.139,-0.057Z"]}, "legend": {"title": null, "orient": "none", "legendX": 1193, "legendY": 15, "labelFontSize": 24, "labelAlign": "right", "labelOffset": -63, "symbolOffset": 57, "rowPadding": 4, "padding": 0, "labelLimit": 400, "symbolStrokeWidth": 1}},
        "size": {"field": "m", "type": "nominal", "sort": null, "scale": {"domain": ["ECMWF", "HRRR", "NAM 3 km", "NAM 12 km", "GFS 0.125°", "GFS 0.250°", "NBM"], "range": [81, 130, 140, 140, 95, 140, 130]}, "legend": {"title": null, "orient": "none", "legendX": 1193, "legendY": 15, "labelFontSize": 24, "labelAlign": "right", "labelOffset": -63, "symbolOffset": 57, "rowPadding": 4, "padding": 0, "labelLimit": 400, "symbolStrokeWidth": 1}}
      }
    },
    {
      "mark": {"type": "point", "opacity": 0},
      "encoding": {
        "x": {"field": "h", "type": "quantitative", "axis": {"orient": "top", "values": [0, 24, 48, 72, 96, 120, 144, 168, 192, 216], "labels": false, "title": null}},
        "y": {"field": "v", "type": "quantitative", "axis": {"orient": "right", "values": [0, 20, 40, 60, 80, 100], "labels": false, "title": null}}
      }
    }
  ]
}
